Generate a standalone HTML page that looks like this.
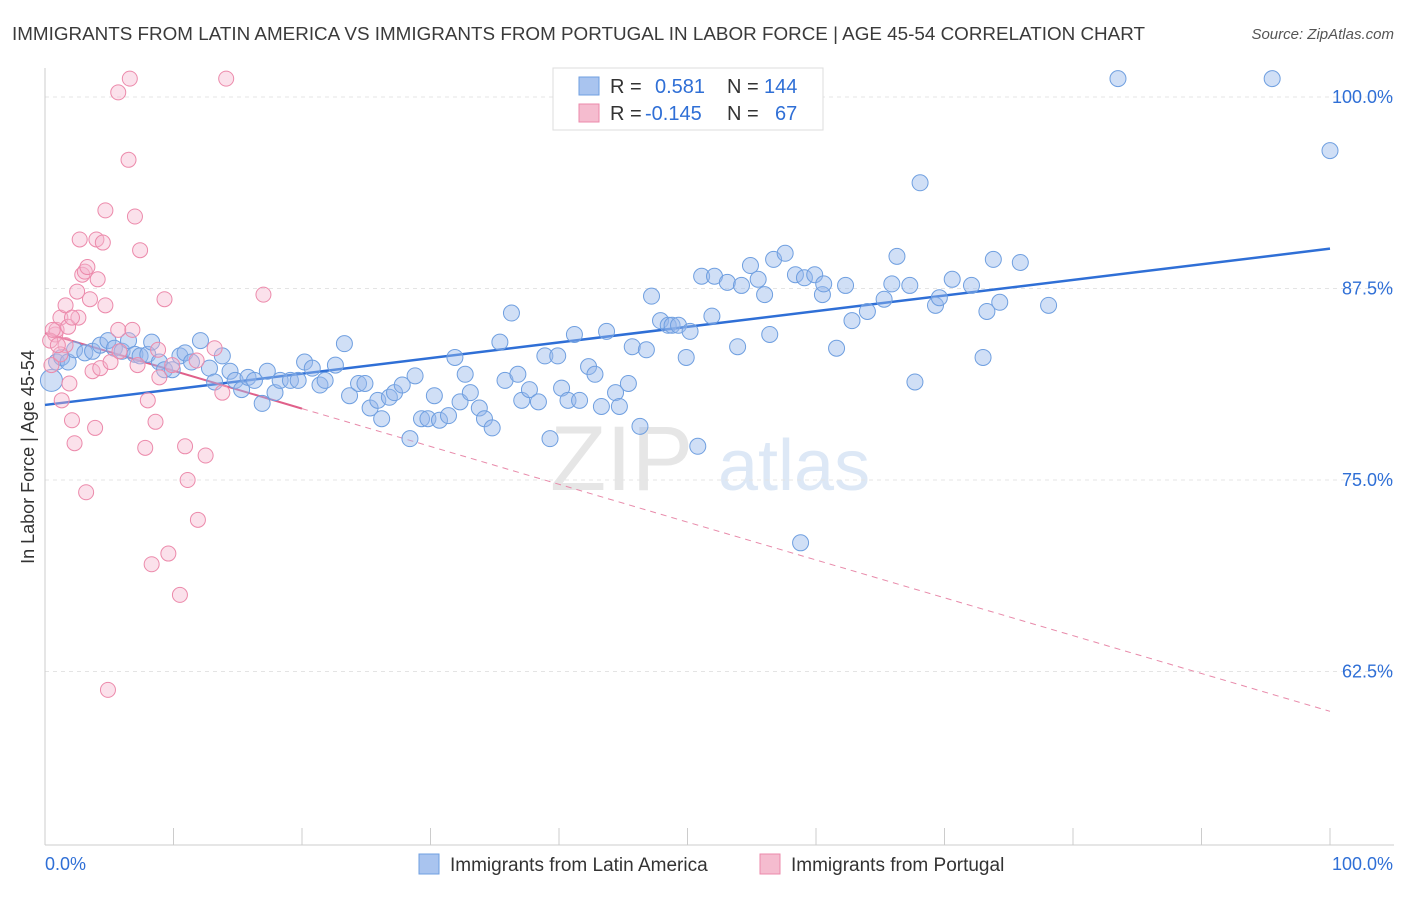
<!DOCTYPE html>
<html><head><meta charset="utf-8"><style>
body{margin:0;background:#fff;font-family:"Liberation Sans",sans-serif;}
svg text{font-family:"Liberation Sans",sans-serif;}
</style></head><body>
<svg id="chart" width="1406" height="892" viewBox="0 0 1406 892">
<text x="12" y="40" font-size="18" fill="#3a3a3a" textLength="1133" lengthAdjust="spacingAndGlyphs">IMMIGRANTS FROM LATIN AMERICA VS IMMIGRANTS FROM PORTUGAL IN LABOR FORCE | AGE 45-54 CORRELATION CHART</text>
<text x="1394" y="39" font-size="15" fill="#555" text-anchor="end" font-style="italic">Source: ZipAtlas.com</text>
<text x="34" y="457" font-size="18" fill="#333" text-anchor="middle" transform="rotate(-90 34 457)">In Labor Force | Age 45-54</text>
<g><text x="550" y="490" font-size="92" fill="#e6e6e6" font-family="Liberation Serif">ZIP</text><text x="718" y="490" font-size="72" fill="#dde8f6">atlas</text></g>
<g id="grid"></g><g id="axes"></g><g id="lines"></g><g id="pts"></g>
<g>
<rect x="553" y="68" width="270" height="62" fill="#fff" stroke="#ddd"/>
<rect x="579" y="77" width="20" height="18" fill="#a9c4ef" stroke="#6f9fe0"/>
<rect x="579" y="104" width="20" height="18" fill="#f5bccf" stroke="#ec8aab"/>
<text x="610" y="93" font-size="20" fill="#333">R =</text><text x="655" y="93" font-size="20" fill="#2f6fd6">0.581</text>
<text x="727" y="93" font-size="20" fill="#333">N =</text><text x="764" y="93" font-size="20" fill="#2f6fd6">144</text>
<text x="610" y="120" font-size="20" fill="#333">R =</text><text x="645" y="120" font-size="20" fill="#2f6fd6">-0.145</text>
<text x="727" y="120" font-size="20" fill="#333">N =</text><text x="775" y="120" font-size="20" fill="#2f6fd6">67</text>
</g>
<g>
<rect x="419" y="854" width="20" height="20" fill="#a9c4ef" stroke="#6f9fe0"/>
<text x="450" y="871" font-size="19" fill="#333">Immigrants from Latin America</text>
<rect x="760" y="854" width="20" height="20" fill="#f5bccf" stroke="#ec8aab"/>
<text x="791" y="871" font-size="19" fill="#333">Immigrants from Portugal</text>
</g>
<text x="45" y="870" font-size="18" fill="#2f6fd6">0.0%</text>
<text x="1393" y="870" font-size="18" fill="#2f6fd6" text-anchor="end">100.0%</text>
</svg>
<script>
const yTicks=[100,87.5,75,62.5];
const yTickLabels=["100.0%","87.5%","75.0%","62.5%"];
const xTicks=[0,10,20,30,40,50,60,70,80,90,100];
const blueX=[0.5,0.9,1.3,1.8,2.3,3.1,3.7,4.3,4.9,5.4,6.0,6.5,7.0,7.4,8.0,8.3,8.9,9.3,9.9,10.5,10.9,11.4,12.1,12.8,13.2,13.8,14.4,14.8,15.3,15.8,16.3,16.9,17.3,17.9,18.3,19.1,19.7,20.2,20.8,21.4,21.8,22.6,23.3,23.7,24.4,24.9,25.3,25.9,26.2,26.8,27.2,27.8,28.4,28.8,29.3,29.8,30.3,30.7,31.4,31.9,32.3,32.7,33.1,33.8,34.2,34.8,35.4,35.8,36.3,36.8,37.1,37.7,38.4,38.9,39.3,39.9,40.2,40.7,41.2,41.6,42.3,42.8,43.3,43.7,44.4,44.7,45.4,45.7,46.3,46.8,47.2,47.9,48.5,48.8,49.3,49.9,50.2,50.8,51.1,51.9,52.1,53.1,53.9,54.2,54.9,55.5,56.0,56.4,56.7,57.6,58.4,58.8,59.1,59.9,60.5,60.6,61.6,62.3,62.8,64.0,65.3,65.9,66.3,67.3,67.7,68.1,69.3,69.6,70.6,72.1,73.0,73.3,73.8,74.3,75.9,78.1,83.5,95.5,100.0];
const blueY=[81.5,82.7,83.0,82.7,83.5,83.3,83.4,83.8,84.1,83.6,83.4,84.1,83.2,83.1,83.2,84.0,82.7,82.2,82.2,83.1,83.3,82.7,84.1,82.3,81.4,83.1,82.1,81.5,80.9,81.7,81.5,80.0,82.1,80.7,81.5,81.5,81.5,82.7,82.3,81.2,81.5,82.5,83.9,80.5,81.3,81.3,79.7,80.2,79.0,80.4,80.7,81.2,77.7,81.8,79.0,79.0,80.5,78.9,79.2,83.0,80.1,81.9,80.7,79.7,79.0,78.4,84.0,81.5,85.9,81.9,80.2,80.9,80.1,83.1,77.7,83.1,81.0,80.2,84.5,80.2,82.4,81.9,79.8,84.7,80.7,79.8,81.3,83.7,78.5,83.5,87.0,85.4,85.1,85.1,85.1,83.0,84.7,77.2,88.3,85.7,88.3,87.9,83.7,87.7,89.0,88.1,87.1,84.5,89.4,89.8,88.4,70.9,88.2,88.4,87.1,87.8,83.6,87.7,85.4,86.0,86.8,87.8,89.6,87.7,81.4,94.4,86.4,86.9,88.1,87.7,83.0,86.0,89.4,86.6,89.2,86.4,101.2,101.2,96.5];
const pinkX=[0.5,0.8,0.9,1.2,1.3,1.6,1.8,1.9,2.1,2.3,2.5,2.6,2.7,2.9,3.1,3.2,3.3,3.5,3.7,3.9,4.0,4.1,4.3,4.5,4.7,4.7,4.9,5.1,5.7,5.7,5.8,6.5,6.6,6.8,7.0,7.2,7.4,7.8,8.0,8.3,8.6,8.8,8.9,9.3,9.6,9.9,10.5,10.9,11.1,11.8,11.9,12.5,13.2,13.8,14.1,17.0,0.4,0.6,1.6,2.1,1.2,1.0];
const pinkY=[82.5,84.5,84.8,85.6,80.2,86.4,85.0,81.3,78.9,77.4,87.3,85.6,90.7,88.4,88.6,74.2,88.9,86.8,82.1,78.4,90.7,88.1,82.3,90.5,86.4,92.6,61.3,82.7,100.3,84.8,83.4,95.9,101.2,84.8,92.2,82.5,90.0,77.1,80.2,69.5,78.8,83.5,81.7,86.8,70.2,82.5,67.5,77.2,75.0,82.8,72.4,76.6,83.6,80.7,101.2,87.1,84.1,84.8,83.8,85.6,83.2,83.8];
const blueFit=[79.9,90.1];      // value at x=0, x=100
const pinkFit=[84.6,59.9];
const X=v=>45+v*12.85, Y=v=>97+(100-v)*15.32;
const NS="http://www.w3.org/2000/svg";
function mk(tag,attrs,parent){const e=document.createElementNS(NS,tag);for(const k in attrs)e.setAttribute(k,attrs[k]);document.getElementById(parent).appendChild(e);return e;}
yTicks.forEach((t,i)=>{
 const g=mk('line',{x1:45,x2:1394,y1:Y(t),y2:Y(t),stroke:'#e4e4e4','stroke-dasharray':'4 4'},'grid');
 
 
 const l=mk('text',{x:1393,y:Y(t)+6,'font-size':18,fill:'#2f6fd6','text-anchor':'end'},'grid');l.textContent=yTickLabels[i];
 
 
});
const ya=mk('line',{x1:45,x2:45,y1:68,y2:845,stroke:'#ccc'},'axes');


const xa=mk('line',{x1:45,x2:1394,y1:845,y2:845,stroke:'#ccc'},'axes');


xTicks.forEach(t=>{const e=mk('line',{x1:X(t),x2:X(t),y1:828,y2:845,stroke:'#ccc'},'axes');
 
 });
blueX.forEach((x,i)=>{const c=mk('circle',{cx:X(x),cy:Y(blueY[i]),r:i===0?11:8,fill:'rgba(150,185,235,0.45)',stroke:'#6f9fe0','stroke-width':1},'pts');
 
 });
pinkX.forEach((x,i)=>{const c=mk('circle',{cx:X(x),cy:Y(pinkY[i]),r:7.5,fill:'rgba(245,180,205,0.4)',stroke:'#ec8aab','stroke-width':1},'pts');
 
 });
const bl=mk('line',{x1:X(0),y1:Y(blueFit[0]),x2:X(100),y2:Y(blueFit[1]),stroke:'#2f6fd6','stroke-width':2.5},'lines');


const pv=x=>pinkFit[0]+(pinkFit[1]-pinkFit[0])*x/100;
const ps=mk('line',{x1:X(0),y1:Y(pv(0)),x2:X(20),y2:Y(pv(20)),stroke:'#e0608a','stroke-width':2},'lines');


const pd=mk('line',{x1:X(20),y1:Y(pv(20)),x2:X(100),y2:Y(pv(100)),stroke:'#e88aaa','stroke-width':1,'stroke-dasharray':'6 5'},'lines');


</script>
</body></html>
